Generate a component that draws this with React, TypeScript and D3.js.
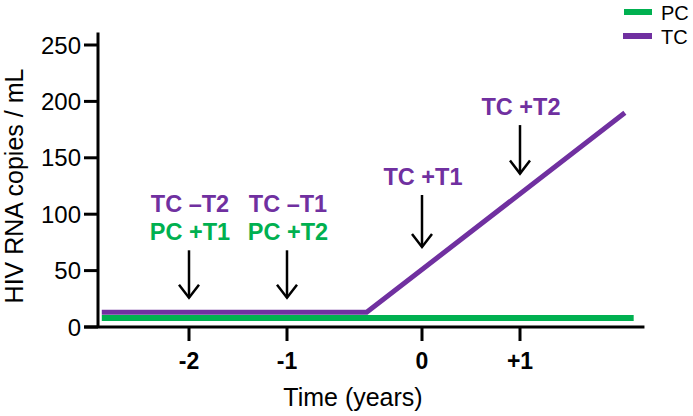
import React from 'react';
import * as d3 from 'd3';

// values
const yTicks = [0, 50, 100, 150, 200, 250];
const xTicks = [-2, -1, 0, 1];

const tcYears = [-2.89, -0.41, 2.07];
const tcValues = [13, 13, 190];
const pcYears = [-2.89, 2.16];
const pcValues = [8, 8];

const annotYears = [-2, -1, 0, 1];
const annotTop = [68, 68, 117, 179];
const annotBottom = [26, 26, 71, 136];
const annotTC = ['TC \u2013T2', 'TC \u2013T1', 'TC +T1', 'TC +T2'];
const annotPC = ['PC +T1', 'PC +T2', '', ''];

const GREEN = '#00B050';
const PURPLE = '#7030A0';
const FONT = '"Liberation Sans", Arial, sans-serif';

const App = () => {
  const width = 693;
  const height = 416;

  const x = d3.scaleLinear().domain([-2, -1, 0, 1]).range([189, 287, 422, 520]);
  const y = d3.scaleLinear().domain([0, 250]).range([327, 45]);
  const axisX = 98;

  const line = d3.line<[number, number]>()
    .x(d => x(d[0]))
    .y(d => y(d[1]));

  const tc = tcYears.map((t, i) => [t, tcValues[i]] as [number, number]);
  const pc = pcYears.map((t, i) => [t, pcValues[i]] as [number, number]);

  const fmt = (d: number) => (d > 0 ? `+${d}` : `${d}`);

  return (
    <svg
      width={width}
      height={height}
      style={{ position: 'absolute', left: 0, top: 0, background: '#fff' }}
      fontFamily={FONT}
    >
      {/* axes */}
      <line x1={axisX} x2={axisX} y1={y(261)} y2={y(0)} stroke="#000" strokeWidth={3} />
      <line x1={x(-3.07)} x2={x(2.27)} y1={y(0)} y2={y(0)} stroke="#000" strokeWidth={3} />
      {yTicks.map(t => (
        <g key={t}>
          <line x1={axisX - 14} x2={axisX} y1={y(t)} y2={y(t)} stroke="#000" strokeWidth={3} />
          <text x={axisX - 17} y={y(t)} dy="0.36em" textAnchor="end" fontSize={24}>{t}</text>
        </g>
      ))}
      {xTicks.map(t => (
        <g key={t}>
          <line x1={x(t)} x2={x(t)} y1={y(0)} y2={y(0) + 14} stroke="#000" strokeWidth={3} />
          <text x={x(t)} y={369} textAnchor="middle" fontSize={23} fontWeight="bold">{fmt(t)}</text>
        </g>
      ))}
      <text x={353} y={406} textAnchor="middle" fontSize={25}>Time (years)</text>
      <text
        transform={`translate(23,186) rotate(-90)`}
        textAnchor="middle"
        fontSize={25}
      >HIV RNA copies / mL</text>

      {/* series */}
      <path d={line(tc) ?? ''} fill="none" stroke={PURPLE} strokeWidth={5} />
      <path d={line(pc) ?? ''} fill="none" stroke={GREEN} strokeWidth={6} />

      {/* annotations */}
      {annotYears.map((t, i) => {
        const ax = x(t);
        const y1 = y(annotTop[i]);
        const y2 = y(annotBottom[i]);
        const hasPC = annotPC[i] !== '';
        return (
          <g key={i}>
            <line x1={ax} x2={ax} y1={y1} y2={y2} stroke="#000" strokeWidth={2.5} />
            <path d={`M${ax - 10},${y2 - 13} L${ax},${y2} L${ax + 10},${y2 - 13}`} fill="none" stroke="#000" strokeWidth={2.5} />
            {hasPC && (
              <text x={ax + 1} y={y1 - 10} textAnchor="middle" fontSize={23.5} fontWeight="bold" fill={GREEN}>{annotPC[i]}</text>
            )}
            <text x={ax + 1} y={hasPC ? y1 - 38 : y1 - 10} textAnchor="middle" fontSize={23.5} fontWeight="bold" fill={PURPLE}>{annotTC[i]}</text>
          </g>
        );
      })}

      {/* legend */}
      <line x1={624} x2={652} y1={12} y2={12} stroke={GREEN} strokeWidth={6} />
      <text x={661} y={13} dy="0.36em" fontSize={20}>PC</text>
      <line x1={623} x2={652} y1={36} y2={36} stroke={PURPLE} strokeWidth={6} />
      <text x={661} y={37} dy="0.36em" fontSize={20}>TC</text>
    </svg>
  );
};

export default App;
